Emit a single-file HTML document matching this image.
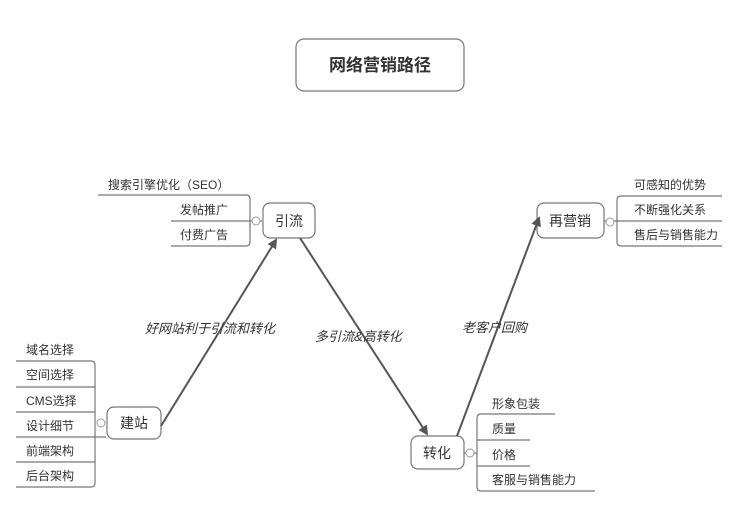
<!DOCTYPE html>
<html><head><meta charset="utf-8"><style>
body{margin:0;background:#fff;}
svg text{font-family:"Liberation Sans","Noto Sans CJK SC",sans-serif;fill:#333;}
</style></head><body>
<svg width="750" height="519" viewBox="0 0 750 519" xmlns="http://www.w3.org/2000/svg">
<defs><marker id="a" markerWidth="10" markerHeight="10" refX="8" refY="5" orient="auto" markerUnits="userSpaceOnUse"><path d="M0,0 L10,5 L0,10 z" fill="#555"/></marker></defs>
<g fill="none" stroke="#777" stroke-width="1.2">
<rect x="296" y="39" width="168" height="52" rx="8"/>
<rect x="263" y="203" width="52" height="35" rx="7"/>
<rect x="107" y="407" width="54" height="32" rx="7"/>
<rect x="411" y="436" width="53" height="33" rx="7"/>
<rect x="537" y="203" width="67" height="35" rx="7"/>
<!-- 引流 branch -->
<path d="M98 195H246Q250 195 250 199V242Q250 246 246 246H171M171 221H262"/>
<!-- 建站 -->
<path d="M16 361H91Q95 361 95 365V483Q95 487 91 487H16M16 387H95M16 412H95M16 437H106M16 462H95"/>
<!-- 转化 -->
<path d="M555 414H481Q477 414 477 418V487Q477 491 481 491H595M530 440H477M530 466H477M464 453H477"/>
<!-- 再营销 -->
<path d="M722 196H621Q617 196 617 200V242Q617 246 621 246H722M722 221H604"/>
</g>
<g fill="#fff" stroke="#999"><circle cx="256" cy="221" r="4"/><circle cx="101" cy="423" r="4"/><circle cx="470" cy="453" r="4"/><circle cx="610" cy="222" r="4"/></g>
<g stroke="#555" stroke-width="2" marker-end="url(#a)">
<line x1="161" y1="426" x2="276" y2="240"/>
<line x1="300" y1="238" x2="427" y2="434"/>
<line x1="457" y1="436" x2="539" y2="218"/>
</g>
<text x="380" y="71" font-size="17" font-weight="bold" text-anchor="middle">网络营销路径</text>
<g font-size="14" text-anchor="middle">
<text x="289" y="226">引流</text><text x="134" y="428">建站</text><text x="437" y="458">转化</text><text x="570" y="226">再营销</text>
</g>
<g font-size="12">
<text x="108" y="189">搜索引擎优化（SEO）</text><text x="180" y="214">发帖推广</text><text x="180" y="239">付费广告</text>
<text x="26" y="354">域名选择</text><text x="26" y="379">空间选择</text><text x="26" y="405">CMS选择</text><text x="26" y="430">设计细节</text><text x="26" y="455">前端架构</text><text x="26" y="480">后台架构</text>
<text x="492" y="408">形象包装</text><text x="492" y="433">质量</text><text x="492" y="459">价格</text><text x="492" y="484">客服与销售能力</text>
<text x="634" y="189">可感知的优势</text><text x="634" y="214">不断强化关系</text><text x="634" y="239">售后与销售能力</text>
</g>
<g font-size="13" font-style="italic">
<text x="145" y="333">好网站利于引流和转化</text><text x="315" y="341">多引流&amp;高转化</text><text x="462" y="332">老客户回购</text>
</g>
</svg>
</body></html>
